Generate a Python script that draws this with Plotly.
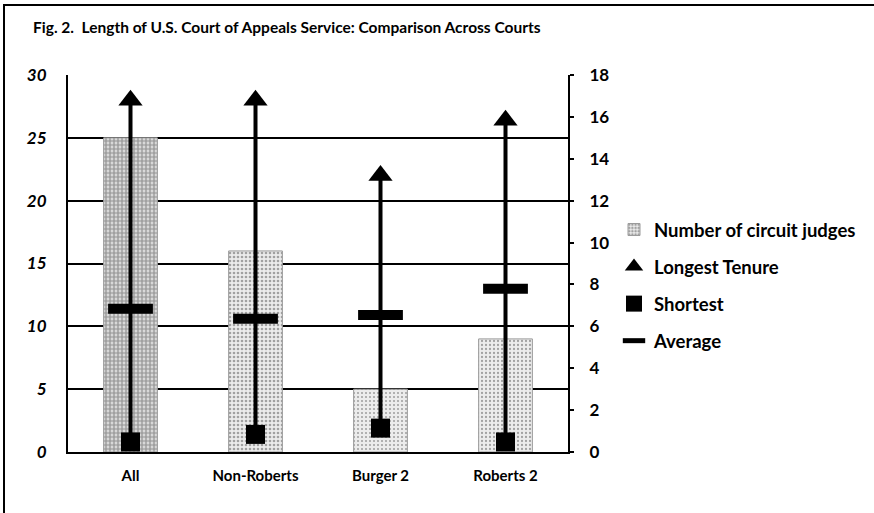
import plotly.graph_objects as go

categories = ["All", "Non-Roberts", "Burger 2", "Roberts 2"]
num_judges = [25, 16, 5, 9]
longest = [28.0, 28.0, 22.0, 26.4]
shortest = [0.8, 1.4, 1.9, 0.8]
average = [11.4, 10.6, 10.9, 13.0]

FONT = "Lato"
W, H = 874, 513
L, R, T, B = 68, 306, 75, 61
PW, PH = W - L - R, H - T - B

def px_x(px):
    return (px - L) / PW

def px_y(py):
    return (H - B - py) / PH

fig = go.Figure()

fig.add_trace(go.Bar(
    x=categories, y=num_judges, name="Number of circuit judges",
    width=0.43,
    marker=dict(
        color="#e6e6e6",
        line=dict(color="#9a9a9a", width=1),
        pattern=dict(shape=".", fgcolor="#555555", bgcolor="#ececec",
                     size=4, solidity=[0.7, 0.35, 0.22, 0.25]),
    ),
    legendgroup="a",
))

# high-low lines from shortest to longest
fig.add_trace(go.Scatter(
    x=categories, y=shortest, mode="markers",
    marker=dict(size=1, color="rgba(0,0,0,0)"),
    error_y=dict(type="data", symmetric=False,
                 array=[lo - s for lo, s in zip(longest, shortest)],
                 arrayminus=[0] * len(shortest),
                 width=0, thickness=4, color="black"),
    showlegend=False, hoverinfo="skip",
))

fig.add_trace(go.Scatter(
    x=categories, y=longest, mode="markers", name="Longest Tenure",
    marker=dict(symbol="triangle-up", size=21, color="black"),
    legendgroup="b",
))
fig.add_trace(go.Scatter(
    x=categories, y=shortest, mode="markers", name="Shortest",
    marker=dict(symbol="square", size=19, color="black"),
    legendgroup="c", cliponaxis=False,
))
fig.add_trace(go.Scatter(
    x=categories, y=average, mode="markers", name="Average",
    marker=dict(symbol="line-ew", size=32, color="black",
                line=dict(width=10, color="black")),
    legendgroup="d",
))
# reference for secondary axis
fig.add_trace(go.Scatter(x=categories, y=[None] * 4, yaxis="y2",
                         showlegend=False, hoverinfo="skip"))

fig.update_layout(
    width=W, height=H,
    margin=dict(l=L, r=R, t=T, b=B),
    paper_bgcolor="white", plot_bgcolor="white",
    font=dict(family=FONT, color="black"),
    bargap=0.57,
    xaxis=dict(showline=True, linecolor="black", linewidth=2,
               ticks="", ticklabelstandoff=9,
               tickfont=dict(size=15, family=FONT, weight="bold"),
               showgrid=False, zeroline=False),
    yaxis=dict(range=[0, 30], dtick=5, showgrid=True, gridcolor="black",
               gridwidth=2, showline=True, linecolor="black", linewidth=2,
               zeroline=False, ticks="", ticklabelstandoff=16,
               tickfont=dict(size=17, family=FONT, weight="bold", style="italic")),
    yaxis2=dict(range=[0, 18], dtick=2, overlaying="y", side="right",
                showgrid=False, showline=True, linecolor="black", linewidth=2,
                ticks="outside", ticklen=4, tickwidth=2, tickcolor="black",
                zeroline=False, ticklabelstandoff=12,
                tickfont=dict(size=17, family=FONT, weight="bold")),
    legend=dict(x=px_x(614), y=px_y(211), xanchor="left", yanchor="top",
                font=dict(size=18.5, family=FONT, weight="bold"),
                tracegroupgap=10, itemwidth=30, bgcolor="rgba(0,0,0,0)"),
    showlegend=True,
)

fig.add_annotation(
    text="Fig. 2.  Length of U.S. Court of Appeals Service: Comparison Across Courts",
    xref="paper", yref="paper", x=px_x(31), y=px_y(27),
    xanchor="left", yanchor="middle", showarrow=False,
    font=dict(size=15.5, family=FONT, weight="bold"),
)

fig.add_shape(type="rect", xref="paper", yref="paper",
              x0=px_x(4), x1=px_x(900), y0=px_y(530), y1=px_y(5),
              line=dict(color="black", width=2), layer="above")

fig.write_html("out.html", post_script="document.body.style.margin='0';",
               config={"displayModeBar": False})
